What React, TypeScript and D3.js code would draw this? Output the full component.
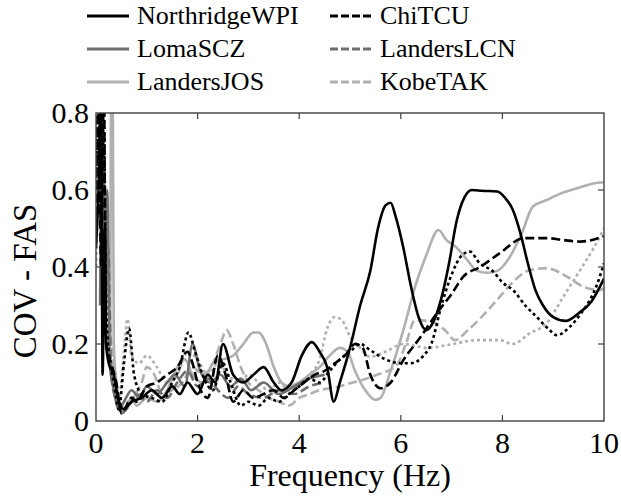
import React from "react";
import * as d3 from "d3";

type Pt = [number, number];

const northridgeWPI: Pt[] = [[0,0.45],[0.05,0.6],[0.1,0.85],[0.13,0.12],[0.17,0.5],[0.2,0.2],[0.25,0.15],[0.35,0.12],[0.45,0.05],[0.55,0.03],[0.7,0.05],[0.9,0.06],[1.1,0.08],[1.3,0.06],[1.5,0.09],[1.65,0.07],[1.8,0.1],[2.0,0.07],[2.2,0.12],[2.35,0.1],[2.5,0.2],[2.7,0.12],[2.9,0.1],[3.1,0.12],[3.3,0.14],[3.5,0.1],[3.65,0.08],[3.85,0.1],[4.05,0.17],[4.25,0.205],[4.4,0.18],[4.55,0.14],[4.68,0.05],[4.8,0.1],[5.0,0.19],[5.2,0.3],[5.4,0.39],[5.55,0.5],[5.7,0.56],[5.8,0.567],[5.9,0.53],[6.05,0.45],[6.2,0.35],[6.35,0.27],[6.5,0.236],[6.65,0.26],[6.8,0.32],[6.95,0.41],[7.1,0.52],[7.25,0.58],[7.4,0.6],[7.6,0.598],[7.9,0.596],[8.05,0.58],[8.2,0.55],[8.35,0.49],[8.5,0.41],[8.65,0.34],[8.8,0.3],[9.0,0.27],[9.25,0.26],[9.5,0.28],[9.75,0.31],[10,0.37]];

const lomaSCZ: Pt[] = [[0.08,0.3],[0.12,0.7],[0.16,0.25],[0.22,0.6],[0.27,0.15],[0.35,0.08],[0.45,0.03],[0.55,0.05],[0.7,0.08],[0.85,0.06],[1.0,0.09],[1.2,0.07],[1.4,0.1],[1.55,0.12],[1.75,0.09],[1.9,0.2],[2.05,0.13],[2.25,0.1],[2.45,0.12],[2.65,0.09],[2.85,0.11],[3.05,0.08],[3.3,0.1],[3.6,0.07],[3.9,0.09],[4.2,0.11],[4.5,0.12]];

const landersJOS: Pt[] = [[0.28,0.2],[0.3,0.85],[0.33,0.85],[0.35,0.2],[0.4,0.1],[0.5,0.04],[0.6,0.03],[0.7,0.06],[0.8,0.04],[1.0,0.06],[1.2,0.05],[1.4,0.08],[1.6,0.14],[1.75,0.16],[1.9,0.12],[2.1,0.1],[2.3,0.15],[2.5,0.16],[2.7,0.17],[2.9,0.2],[3.1,0.23],[3.2,0.23],[3.35,0.2],[3.5,0.14],[3.65,0.1],[3.8,0.09],[4.0,0.1],[4.2,0.12],[4.4,0.14],[4.6,0.17],[4.8,0.19],[4.95,0.18],[5.1,0.13],[5.3,0.08],[5.5,0.055],[5.6,0.06],[5.8,0.13],[6.05,0.236],[6.3,0.357],[6.5,0.43],[6.74,0.496],[6.9,0.47],[7.1,0.45],[7.3,0.42],[7.5,0.39],[7.7,0.385],[7.9,0.39],[8.15,0.427],[8.38,0.487],[8.6,0.557],[8.87,0.574],[9.13,0.59],[9.46,0.604],[9.79,0.617],[10,0.62]];

const chiTCU: Pt[] = [[0,0.5],[0.05,0.9],[0.1,0.4],[0.15,0.9],[0.2,0.2],[0.3,0.15],[0.4,0.1],[0.5,0.02],[0.6,0.04],[0.7,0.06],[0.8,0.05],[1.0,0.09],[1.2,0.1],[1.4,0.12],[1.6,0.14],[1.8,0.18],[1.9,0.15],[2.0,0.1],[2.2,0.06],[2.4,0.17],[2.55,0.12],[2.7,0.05],[2.9,0.08],[3.1,0.06],[3.3,0.07],[3.5,0.08],[3.7,0.06],[3.9,0.08],[4.1,0.1],[4.3,0.12],[4.5,0.13],[4.7,0.15],[4.9,0.17],[5.1,0.2],[5.25,0.19],[5.4,0.12],[5.6,0.085],[5.8,0.1],[6.05,0.158],[6.4,0.22],[6.71,0.28],[7.0,0.33],[7.23,0.375],[7.56,0.4],[7.95,0.436],[8.42,0.475],[8.87,0.475],[9.2,0.47],[9.53,0.466],[10,0.48]];

const landersLCN: Pt[] = [[0.1,0.5],[0.14,0.8],[0.18,0.3],[0.24,0.45],[0.3,0.12],[0.4,0.05],[0.5,0.02],[0.65,0.04],[0.8,0.07],[1.0,0.05],[1.2,0.08],[1.4,0.06],[1.6,0.1],[1.8,0.13],[2.0,0.09],[2.2,0.11],[2.4,0.08],[2.6,0.06],[2.8,0.09],[3.0,0.07],[3.3,0.06],[3.6,0.08],[3.9,0.07],[4.2,0.09],[4.5,0.1]];

const kobeTAK: Pt[] = [[0.15,0.3],[0.2,0.6],[0.25,0.35],[0.3,0.2],[0.4,0.08],[0.5,0.04],[0.7,0.06],[0.9,0.1],[1.0,0.14],[1.15,0.12],[1.3,0.07],[1.5,0.08],[1.7,0.1],[1.9,0.14],[2.1,0.12],[2.3,0.15],[2.45,0.2],[2.57,0.236],[2.7,0.2],[2.85,0.14],[3.0,0.1],[3.2,0.08],[3.4,0.06],[3.6,0.05],[3.8,0.04],[4.0,0.06],[4.2,0.07],[4.4,0.08],[4.6,0.085],[4.8,0.09],[5.0,0.098],[5.2,0.105],[5.53,0.12],[5.92,0.145],[6.1,0.2],[6.28,0.262],[6.61,0.258],[6.87,0.236],[7.07,0.21],[7.32,0.236],[7.59,0.27],[7.95,0.323],[8.2,0.36],[8.54,0.392],[8.87,0.397],[9.27,0.375],[9.59,0.349],[9.92,0.34],[10,0.345]];

const extraBlackDotted: Pt[] = [[0,0.6],[0.05,0.8],[0.1,0.5],[0.15,0.85],[0.2,0.3],[0.25,0.18],[0.35,0.1],[0.45,0.03],[0.55,0.15],[0.65,0.24],[0.75,0.12],[0.9,0.07],[1.1,0.06],[1.3,0.05],[1.5,0.1],[1.65,0.14],[1.82,0.23],[1.95,0.18],[2.1,0.12],[2.3,0.08],[2.5,0.15],[2.65,0.1],[2.85,0.04],[3.0,0.05],[3.2,0.04],[3.4,0.06],[3.6,0.05],[3.8,0.07],[4.0,0.09],[4.2,0.11],[4.4,0.1],[4.6,0.13],[4.8,0.16],[5.0,0.18],[5.2,0.2],[5.4,0.184],[5.7,0.16],[6.0,0.15],[6.2,0.15],[6.45,0.17],[6.6,0.2],[6.8,0.3],[7.0,0.38],[7.2,0.43],[7.36,0.44],[7.55,0.41],[7.82,0.388],[8.0,0.36],[8.21,0.34],[8.45,0.3],[8.67,0.271],[8.9,0.24],[9.07,0.223],[9.33,0.245],[9.55,0.28],[9.72,0.314],[9.85,0.35],[10,0.41]];

const extraGrayDotted: Pt[] = [[0,0.4],[0.1,0.7],[0.15,0.6],[0.2,0.5],[0.25,0.3],[0.35,0.15],[0.45,0.06],[0.55,0.18],[0.62,0.265],[0.7,0.17],[0.85,0.15],[1.0,0.17],[1.2,0.14],[1.4,0.1],[1.6,0.12],[1.8,0.18],[2.0,0.16],[2.2,0.12],[2.4,0.15],[2.6,0.12],[2.8,0.1],[3.0,0.12],[3.2,0.1],[3.4,0.08],[3.6,0.1],[3.8,0.08],[4.0,0.1],[4.2,0.12],[4.4,0.16],[4.55,0.24],[4.7,0.27],[4.85,0.26],[5.0,0.22],[5.2,0.19],[5.39,0.167],[5.7,0.18],[6.05,0.2],[6.51,0.19],[7.03,0.2],[7.5,0.21],[7.95,0.21],[8.2,0.2],[8.54,0.228],[8.87,0.254],[9.2,0.323],[9.53,0.392],[9.8,0.45],[10,0.5]];

const xTicks = [0, 2, 4, 6, 8, 10];
const yTicks = [0, 0.2, 0.4, 0.6, 0.8];

const BLACK = "#000";
const DARK = "#6e6e6e";
const LIGHT = "#b0b0b0";
const DASH = "9,4";
const DOT = "3,3";

const drawOrder = [
  { data: extraGrayDotted, color: LIGHT, dash: DOT },
  { data: kobeTAK, color: LIGHT, dash: DASH },
  { data: landersJOS, color: LIGHT, dash: null },
  { data: landersLCN, color: DARK, dash: DASH },
  { data: lomaSCZ, color: DARK, dash: null },
  { data: extraBlackDotted, color: BLACK, dash: DOT },
  { data: chiTCU, color: BLACK, dash: DASH },
  { data: northridgeWPI, color: BLACK, dash: null },
];

const legendItems = [
  { name: "NorthridgeWPI", color: BLACK, dash: null, col: 0, row: 0 },
  { name: "LomaSCZ", color: DARK, dash: null, col: 0, row: 1 },
  { name: "LandersJOS", color: LIGHT, dash: null, col: 0, row: 2 },
  { name: "ChiTCU", color: BLACK, dash: DASH, col: 1, row: 0 },
  { name: "LandersLCN", color: DARK, dash: DASH, col: 1, row: 1 },
  { name: "KobeTAK", color: LIGHT, dash: DASH, col: 1, row: 2 },
];

const FONT = '"Liberation Serif", "Times New Roman", serif';

export default function App() {
  const W = 621, H = 496;
  const L = 96, R = 604, T = 113, B = 421;
  const x = d3.scaleLinear().domain([0, 10]).range([L, R]);
  const y = d3.scaleLinear().domain([0, 0.8]).range([B, T]);
  const line = d3.line<Pt>().x(d => x(d[0])).y(d => y(d[1])).curve(d3.curveMonotoneX);
  const axisColor = "#404040";
  const legendCols = [87, 330];
  const legendRows = [16, 49, 82];
  const ts = { fontFamily: FONT };

  return (
    <svg width={W} height={H} style={{ position: "absolute", left: 0, top: 0, background: "#fff" }}>
      <style>{`text { font-family: "Liberation Serif", "Times New Roman", serif; }`}</style>
      <defs>
        <clipPath id="plotclip">
          <rect x={L} y={T} width={R - L} height={B - T} />
        </clipPath>
      </defs>
      <rect x={0} y={0} width={W} height={H} fill="#fff" />
      <g clipPath="url(#plotclip)">
        {drawOrder.map((s, i) => (
          <path key={i} d={line(s.data) || ""} fill="none" stroke={s.color} strokeWidth={2.6}
            strokeDasharray={s.dash || undefined} strokeLinejoin="round" />
        ))}
      </g>
      <rect x={L} y={T} width={R - L} height={B - T} fill="none" stroke={axisColor} strokeWidth={1.4} />
      {xTicks.map(t => (
        <g key={"x" + t}>
          {t > 0 && t < 10 && <line x1={x(t)} x2={x(t)} y1={B} y2={B - 6} stroke={axisColor} strokeWidth={1.2} />}
          {t > 0 && t < 10 && <line x1={x(t)} x2={x(t)} y1={T} y2={T + 6} stroke={axisColor} strokeWidth={1.2} />}
          <text style={ts} x={x(t)} y={B + 32} fontSize={30} textAnchor="middle">{t}</text>
        </g>
      ))}
      {yTicks.map(t => (
        <g key={"y" + t}>
          {t > 0 && t < 0.8 && <line x1={L} x2={L + 6} y1={y(t)} y2={y(t)} stroke={axisColor} strokeWidth={1.2} />}
          {t > 0 && t < 0.8 && <line x1={R} x2={R - 6} y1={y(t)} y2={y(t)} stroke={axisColor} strokeWidth={1.2} />}
          <text style={ts} x={L - 7} y={y(t) + 10} fontSize={30} textAnchor="end">{t === 0 ? "0" : t.toFixed(1)}</text>
        </g>
      ))}
      <text style={ts} x={(L + R) / 2} y={486} fontSize={32} textAnchor="middle">Frequency (Hz)</text>
      <text style={ts} transform={`translate(36, ${(T + B) / 2 + 14}) rotate(-90)`} fontSize={33} textAnchor="middle">COV - FAS</text>
      {legendItems.map(it => {
        const lx = legendCols[it.col];
        const ly = legendRows[it.row];
        return (
          <g key={it.name}>
            <line x1={lx} x2={lx + 42} y1={ly} y2={ly} stroke={it.color} strokeWidth={3}
              strokeDasharray={it.dash ? "8,3" : undefined} />
            <text style={ts} x={lx + 50} y={ly + 8} fontSize={26}>{it.name}</text>
          </g>
        );
      })}
    </svg>
  );
}
